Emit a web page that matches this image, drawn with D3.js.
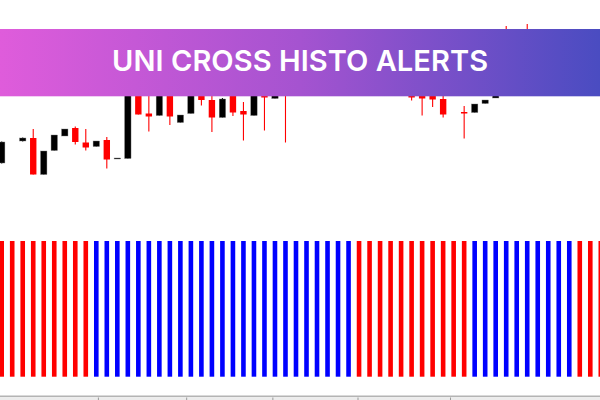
<!DOCTYPE html>
<html>
<head>
<meta charset="utf-8">
<script src="https://cdn.jsdelivr.net/npm/d3@7"></script>
<style>
  html, body { margin: 0; padding: 0; background: #ffffff; }
  svg { display: block; }
</style>
</head>
<body>
<svg id="chart" width="600" height="400"></svg>
<script>
// ---- DATA ----
const title = "UNI CROSS HISTO ALERTS";
const barIndex = d3.range(58);
const openP  = [1.1037,null,1.1059,1.1062,1.10255,1.10495,1.1064,1.1072,1.10575,1.10535,1.1060,1.1041,1.10415,1.1112,1.10865,1.10845,1.1108,1.10775,1.10865,1.1106,1.1100,1.10825,1.1108,1.1089,1.10845,1.1105,1.11015,1.1115,1.1112,1.1122,1.1135,1.1132,1.1145,1.1152,1.1148,1.1138,1.1130,1.1132,1.1120,1.1106,1.1107,1.1108,1.1101,null,1.1088,1.10875,1.10965,1.1102,1.1160,1.1150,1.1165,1.1155,1.1145,1.1135,1.1140,1.1128,1.1120,1.1114];
const highP  = [1.10585,null,1.10625,1.1071,1.1049,1.1065,1.1071,1.10735,1.1071,1.1059,1.1063,1.1042,1.1122,1.1118,1.1105,1.1114,1.1112,1.1085,1.1110,1.1110,1.1104,1.1102,1.1112,1.1098,1.1110,1.1110,1.1108,1.1120,1.1124,1.1138,1.1145,1.1150,1.1158,1.1160,1.1152,1.1145,1.1136,1.1138,1.1128,1.1112,1.1115,1.1114,1.1105,null,1.1094,1.1096,1.1100,1.1110,1.1174,1.1162,1.1176,1.1165,1.1152,1.1145,1.1150,1.1138,1.1130,1.1122];
const lowP   = [1.10365,null,1.10585,1.10255,1.10255,1.10495,1.1064,1.10555,1.10495,1.10535,1.10315,1.1041,1.10415,1.10855,1.10685,1.10845,1.1075,1.10775,1.10865,1.10945,1.1068,1.10825,1.1084,1.10595,1.10845,1.10695,1.11015,1.10575,1.1108,1.1120,1.1130,1.1130,1.1140,1.1142,1.1134,1.1126,1.1120,1.1115,1.1108,1.10995,1.10845,1.1093,1.10825,null,1.10615,1.10875,1.10965,1.1102,1.1145,1.1140,1.1150,1.1140,1.1130,1.1128,1.1122,1.1115,1.1110,1.1107];
const closeP = [1.1058,null,1.1062,1.10255,1.1049,1.1065,1.1071,1.1058,1.10525,1.1059,1.10405,1.1042,1.1120,1.10855,1.10835,1.1110,1.10835,1.1085,1.1105,1.1100,1.10825,1.1101,1.10875,1.10855,1.1108,1.11025,1.1106,1.1106,1.1122,1.1135,1.1132,1.1145,1.1152,1.1148,1.1138,1.1130,1.1132,1.1120,1.1112,1.11025,1.11015,1.11005,1.10855,null,1.10865,1.1096,1.1100,1.1107,1.1150,1.1158,1.1155,1.1145,1.1135,1.1140,1.1128,1.1120,1.1114,1.1118];
// histogram: signal per bar (1 = up / blue, -1 = down / red), all bars full height
const histSignal = [-1,-1,-1,-1,-1,-1,-1,-1,-1, 1,1,1,1,1,1,1,1,1,1,1,1,1,1,1,1,1,1,1,1,1,1,1,1,1, -1,-1,-1,-1,-1,-1,-1,-1,-1,-1,-1, 1,1,1,1,1,1,1,1,1,1, -1,-1,-1];
const histValue  = histSignal.map(() => 1);
// time-axis tick positions (in bar units)
const timeTicks = [9.2, 17.6, 25.8, 33.9, 42.7];

// ---- CHART ----
const svg = d3.select("#chart");
const W = 600, H = 400;

const x = d3.scaleLinear().domain([0, 57]).range([1.7, 600.8]);
const yPrice = d3.scaleLinear().domain([1.1000, 1.1200]).range([200, 0]);
const yHist = d3.scaleLinear().domain([0, 1]).range([376.7, 241]);

const candles = barIndex.map(i => ({i, o: openP[i], h: highP[i], l: lowP[i], c: closeP[i]}))
  .filter(d => d.o !== null);
const col = d => d.c >= d.o ? "#000000" : "#ff0000";

const cg = svg.append("g");
cg.selectAll("line.wick").data(candles).join("line")
  .attr("class", "wick")
  .attr("x1", d => x(d.i)).attr("x2", d => x(d.i))
  .attr("y1", d => yPrice(d.h)).attr("y2", d => yPrice(d.l))
  .attr("stroke", col).attr("stroke-width", 1.1);
const bodyW = 6.4;
cg.selectAll("rect.body").data(candles).join("rect")
  .attr("class", "body")
  .attr("x", d => x(d.i) - bodyW / 2)
  .attr("width", bodyW)
  .attr("y", d => yPrice(Math.max(d.o, d.c)))
  .attr("height", d => Math.max(1, Math.abs(yPrice(d.o) - yPrice(d.c))))
  .attr("fill", col)
  .attr("stroke", d => d.c >= d.o ? "#777" : "none")
  .attr("stroke-width", 0.4);

// histogram
const hg = svg.append("g");
const barW = 4.6;
hg.selectAll("rect").data(barIndex).join("rect")
  .attr("x", i => x(i) - barW / 2)
  .attr("width", barW)
  .attr("y", i => yHist(histValue[i]))
  .attr("height", i => yHist(0) - yHist(histValue[i]))
  .attr("fill", i => histSignal[i] > 0 ? "#0000ff" : "#ff0000");

// bottom time axis strip
svg.append("rect").attr("x", 0).attr("y", 395.5).attr("width", W).attr("height", 1.6).attr("fill", "#b4b4b4");
svg.append("rect").attr("x", 0).attr("y", 397.1).attr("width", W).attr("height", 3).attr("fill", "#ececec");
svg.append("g").selectAll("line").data(timeTicks).join("line")
  .attr("x1", d => x(d)).attr("x2", d => x(d))
  .attr("y1", 397.5).attr("y2", 400)
  .attr("stroke", "#9a9a9a").attr("stroke-width", 1);

// banner
const defs = svg.append("defs");
const grad = defs.append("linearGradient").attr("id", "bannerGrad")
  .attr("x1", "0%").attr("x2", "100%").attr("y1", "0%").attr("y2", "0%");
grad.append("stop").attr("offset", "0%").attr("stop-color", "#df5cdb");
grad.append("stop").attr("offset", "50%").attr("stop-color", "#a553d0");
grad.append("stop").attr("offset", "100%").attr("stop-color", "#4a4cc1");
svg.append("rect").attr("x", 0).attr("y", 29).attr("width", W).attr("height", 67.3)
  .attr("fill", "url(#bannerGrad)");
svg.append("text")
  .attr("x", 300).attr("y", 71)
  .attr("text-anchor", "middle")
  .attr("font-family", "Inter, 'Open Sans', sans-serif")
  .attr("font-weight", 600)
  .attr("font-size", 29)
  .attr("fill", "#ffffff")
  .attr("textLength", 376)
  .attr("lengthAdjust", "spacing")
  .text(title);
</script>
</body>
</html>
